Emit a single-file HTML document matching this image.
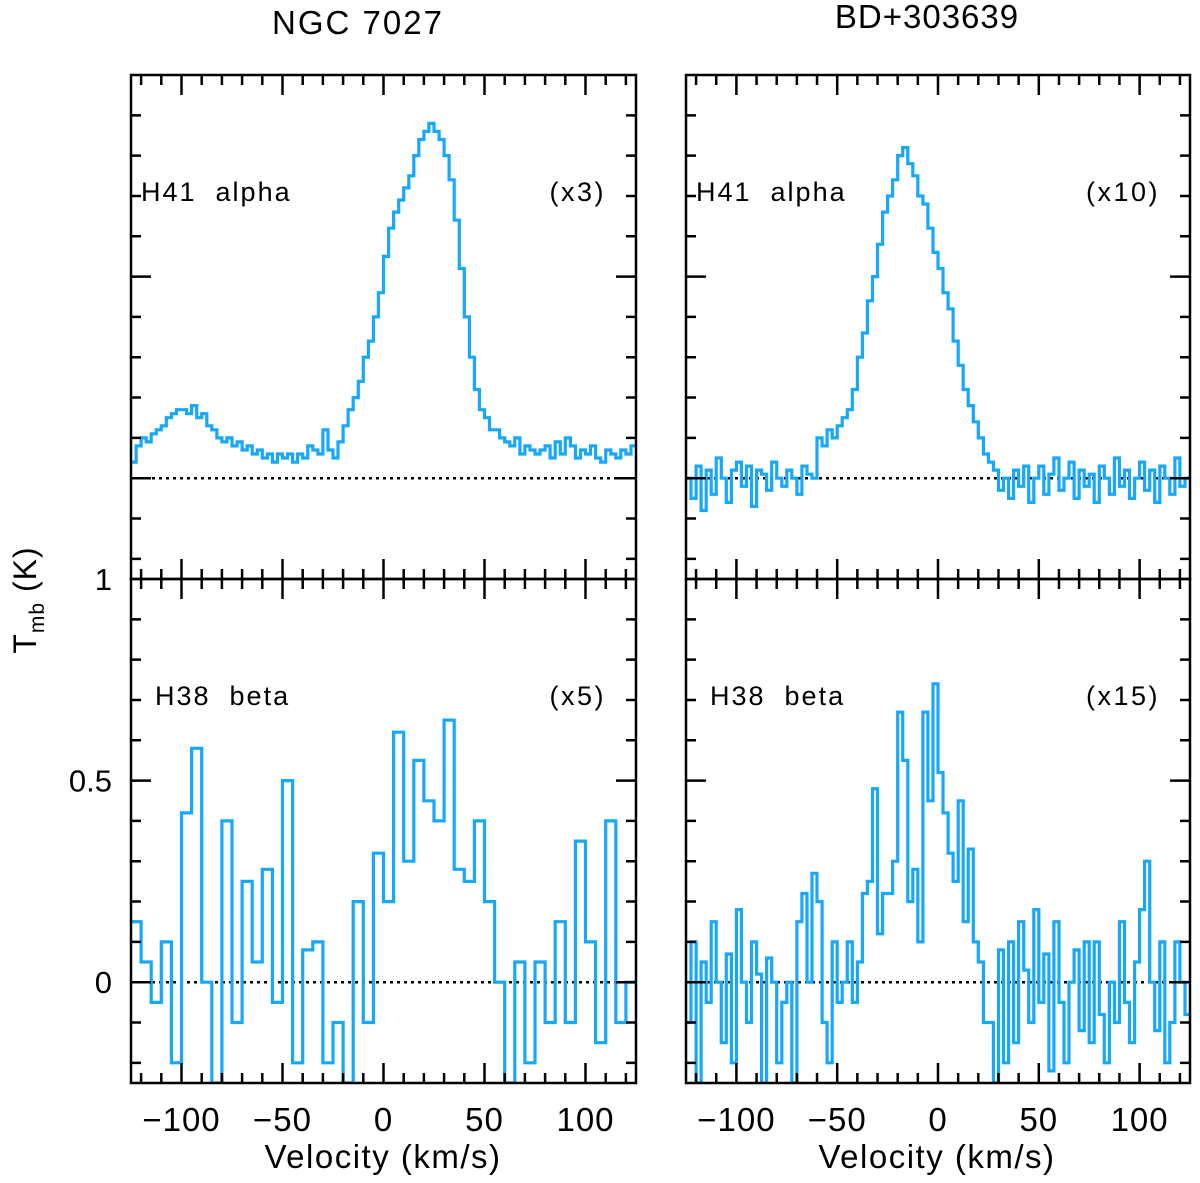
<!DOCTYPE html>
<html><head><meta charset="utf-8"><style>
html,body{margin:0;padding:0;background:#fff}
svg{display:block;font-family:"Liberation Sans",sans-serif}
</style></head><body>
<svg id="chart" width="1200" height="1183" viewBox="0 0 1200 1183" xmlns="http://www.w3.org/2000/svg">
<text x="358" y="34" font-size="33" letter-spacing="2" text-anchor="middle">NGC 7027</text>
<text x="927" y="28" font-size="33" letter-spacing="1" text-anchor="middle">BD+303639</text>
<text transform="translate(36,600) rotate(-90)" font-size="32" letter-spacing="1" text-anchor="middle">T<tspan font-size="21" dy="8">mb</tspan><tspan dy="-8"> (K)</tspan></text>
<text x="383" y="1168" font-size="33" letter-spacing="1.5" text-anchor="middle">Velocity (km/s)</text>
<text x="937" y="1168" font-size="33" letter-spacing="1.5" text-anchor="middle">Velocity (km/s)</text>
<g id="plots"></g>
</svg>
<script>
// channel centers: v = -125 + 2.5*i + 1.25 (top & bottom-right); bottom-left uses 5 km/s channels
const vStart = -125;
const chanTop = 2.5;
const chanBL = 5;
const chanBR = 2.5;
const ngcH41 = [0.04,0.08,0.1,0.09,0.11,0.12,0.13,0.15,0.16,0.17,
0.17,0.16,0.18,0.15,0.16,0.13,0.12,0.1,0.09,0.1,
0.08,0.09,0.07,0.08,0.06,0.07,0.05,0.06,0.04,0.06,
0.05,0.06,0.04,0.06,0.05,0.08,0.07,0.06,0.12,0.07,
0.05,0.09,0.13,0.17,0.2,0.24,0.3,0.34,0.4,0.46,
0.55,0.62,0.66,0.69,0.72,0.75,0.8,0.84,0.86,0.88,
0.86,0.84,0.8,0.74,0.64,0.52,0.4,0.3,0.22,0.17,
0.15,0.12,0.12,0.1,0.09,0.08,0.1,0.06,0.08,0.07,
0.06,0.07,0.08,0.05,0.09,0.06,0.1,0.08,0.05,0.07,
0.06,0.08,0.05,0.04,0.07,0.06,0.05,0.07,0.06,0.08];
const bdH41 = [0.0,-0.05,0.03,-0.08,0.02,-0.04,0.05,0.0,-0.06,0.02,
0.04,-0.02,0.03,-0.07,0.02,0.01,-0.03,0.04,0.0,-0.02,
0.02,0.0,-0.04,0.03,0.01,0.0,0.1,0.08,0.12,0.1,
0.13,0.15,0.17,0.22,0.3,0.36,0.44,0.5,0.58,0.66,
0.7,0.74,0.8,0.82,0.78,0.75,0.7,0.68,0.62,0.56,
0.52,0.46,0.42,0.34,0.28,0.22,0.18,0.14,0.1,0.06,
0.04,0.02,-0.03,0.0,-0.05,0.02,-0.02,0.03,-0.06,0.0,
0.03,-0.04,0.01,0.05,-0.03,0.0,0.04,-0.05,0.02,-0.02,
0.01,-0.06,0.03,0.0,-0.04,0.05,-0.02,0.02,-0.05,0.0,
0.04,-0.03,0.02,-0.06,0.03,0.0,-0.04,0.05,-0.02,0.0];
const ngcH38 = [0.15,0.05,-0.05,0.1,-0.2,0.42,0.58,0.0,-0.25,0.4,
-0.1,0.25,0.05,0.28,-0.05,0.5,-0.2,0.08,0.1,-0.2,
-0.1,-0.25,0.2,-0.1,0.32,0.2,0.62,0.3,0.55,0.45,
0.4,0.65,0.28,0.25,0.4,0.2,0.0,-0.25,0.05,-0.2,
0.05,-0.1,0.15,-0.1,0.35,0.1,-0.15,0.4,-0.1,0.0];
const bdH38 = [-0.1,0.1,-0.25,0.05,-0.05,0.15,0.0,-0.15,0.07,-0.2,
0.18,0.0,-0.1,0.1,0.02,-0.25,0.06,0.0,-0.2,-0.05,
0.0,-0.25,0.15,0.22,0.0,0.27,0.2,-0.1,-0.2,0.1,
-0.05,0.0,0.1,-0.05,0.05,0.22,0.25,0.48,0.12,0.22,
0.22,0.3,0.67,0.55,0.2,0.28,0.1,0.67,0.45,0.74,
0.52,0.42,0.32,0.25,0.45,0.15,0.33,0.1,0.05,-0.1,
-0.1,-0.25,0.08,-0.2,0.1,-0.15,0.15,0.03,-0.1,0.18,
-0.05,0.07,-0.22,0.15,-0.05,-0.2,0.0,0.08,-0.12,0.1,
-0.15,0.1,-0.08,-0.2,0.0,-0.1,0.15,-0.05,-0.15,0.05,
0.18,0.3,0.0,-0.12,0.1,-0.2,-0.1,0.1,0.0,-0.08];
const xTickLabels = ["−100","−50","0","50","100"];
const xTickValues = [-100,-50,0,50,100];
const yTickLabels = ["1","0.5","0"];
const yTickValues = [1,0.5,0];
const lineLabels = ["H41  alpha","H41  alpha","H38  beta","H38  beta"];
const scaleLabels = ["(x3)","(x10)","(x5)","(x15)"];

const NS="http://www.w3.org/2000/svg";
const g=document.getElementById('plots');
const vMin=-125,vMax=125,tMin=-0.25,tMax=1;
const panels=[
 {x0:131,x1:636,y0:75,y1:579,data:ngcH41,ch:chanTop,name:'ngc7027-h41'},
 {x0:686,x1:1190,y0:75,y1:579,data:bdH41,ch:chanTop,name:'bd303639-h41'},
 {x0:131,x1:636,y0:579,y1:1083,data:ngcH38,ch:chanBL,name:'ngc7027-h38'},
 {x0:686,x1:1190,y0:579,y1:1083,data:bdH38,ch:chanBR,name:'bd303639-h38'}];
function mk(tag,attrs){const e=document.createElementNS(NS,tag);for(const k in attrs)e.setAttribute(k,attrs[k]);return e;}
panels.forEach((p,pi)=>{
 const xs=v=>p.x0+(v-vMin)/(vMax-vMin)*(p.x1-p.x0);
 const ys=t=>p.y1-(t-tMin)/(tMax-tMin)*(p.y1-p.y0);
 const grp=mk('g',{});
 
 
 g.appendChild(grp);
 const cid='clip'+pi;
 const cp=mk('clipPath',{id:cid});cp.appendChild(mk('rect',{x:p.x0,y:p.y0,width:p.x1-p.x0,height:p.y1-p.y0}));grp.appendChild(cp);
 const bl=mk('line',{x1:p.x0,x2:p.x1,y1:ys(0),y2:ys(0),stroke:'#000','stroke-width':2.5,'stroke-dasharray':'3,4'});
 
 
 grp.appendChild(bl);
 let d='';
 p.data.forEach((t,i)=>{const a=xs(vStart+i*p.ch),b=xs(vStart+(i+1)*p.ch),y=ys(t);d+=(i===0?'M':'L')+a.toFixed(1)+','+y.toFixed(1)+'L'+b.toFixed(1)+','+y.toFixed(1);});
 const path=mk('path',{d:d,fill:'none',stroke:'#18a8fb','stroke-width':3.2,'clip-path':'url(#'+cid+')'});
 
 
 grp.appendChild(path);
 const fr=mk('rect',{x:p.x0,y:p.y0,width:p.x1-p.x0,height:p.y1-p.y0,fill:'none',stroke:'#000','stroke-width':2.5});
 
 
 grp.appendChild(fr);
 let td='';
 for(let v=-120;v<=120;v+=10){const x=xs(v),L=(v%50===0)?20:10;td+=`M${x},${p.y0}v${L}M${x},${p.y1}v${-L}`;}
 for(let k=-2;k<=10;k++){const t=k/10,y=ys(t),L=(k%5===0)?20:10;if(y<=p.y0+1||y>=p.y1-1)continue;td+=`M${p.x0},${y}h${L}M${p.x1},${y}h${-L}`;}
 const tk=mk('path',{d:td,stroke:'#000','stroke-width':2.5,fill:'none'});
 
 
 grp.appendChild(tk);
 const ll=mk('text',{x:p.x0+(pi>1?24:10),y:p.y0+126,'font-size':27,'letter-spacing':2});
 ll.textContent=lineLabels[pi];ll.style.whiteSpace='pre';
 
 
 grp.appendChild(ll);
 const sl=mk('text',{x:p.x1-30,y:p.y0+126,'font-size':27,'letter-spacing':2.5,'text-anchor':'end'});
 sl.textContent=scaleLabels[pi];
 
 
 grp.appendChild(sl);
 if(pi>=2){xTickValues.forEach((v,j)=>{const t=mk('text',{x:xs(v),y:1131,'font-size':33,'letter-spacing':1,'text-anchor':'middle'});t.textContent=xTickLabels[j];
  
  
  grp.appendChild(t);});}
 if(pi===2){yTickValues.forEach((v,j)=>{const t=mk('text',{x:112,y:ys(v)+11,'font-size':31,'text-anchor':'end'});t.textContent=yTickLabels[j];
  
  
  grp.appendChild(t);});}
});
</script>
</body></html>
